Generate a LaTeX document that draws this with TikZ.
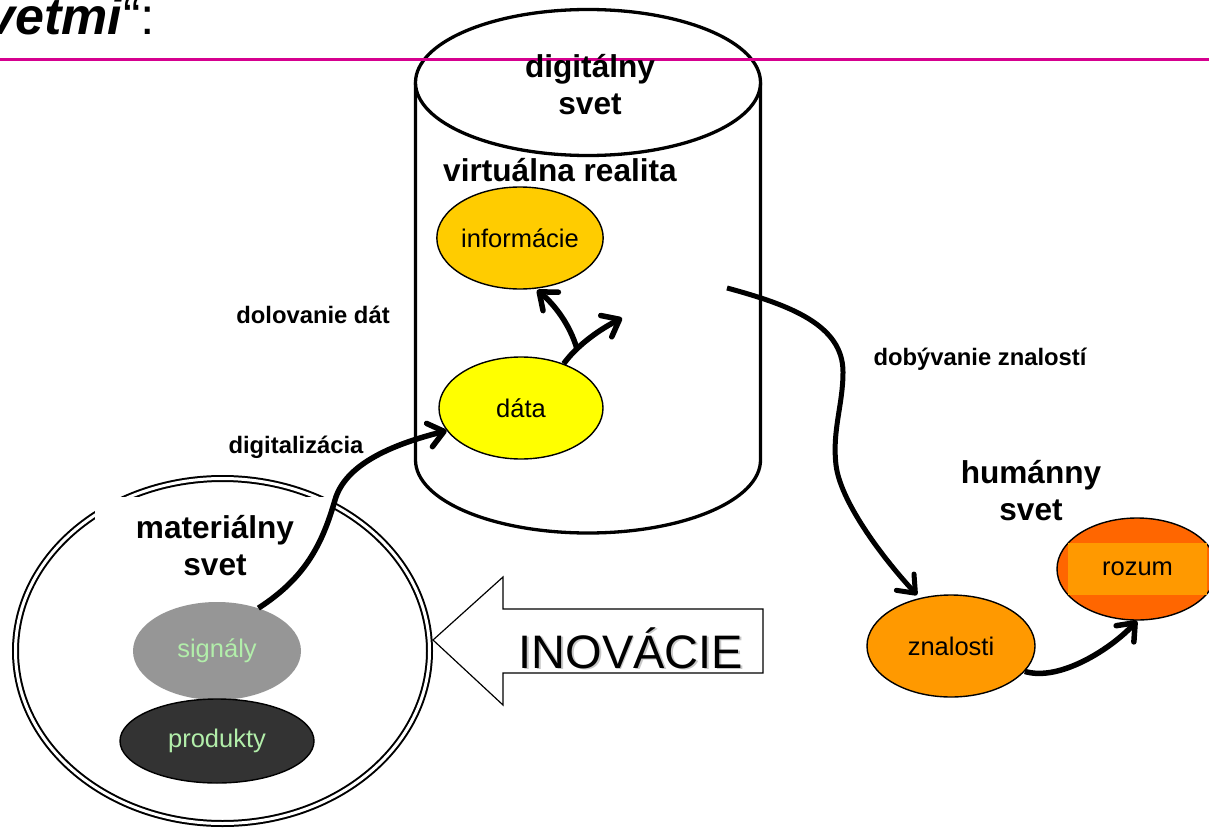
\documentclass[tikz,border=0pt]{standalone}
\usepackage{fontspec}
\setmainfont{Liberation Sans}
\usetikzlibrary{shapes.geometric,arrows.meta}
\definecolor{magline}{RGB}{214,0,143}
\definecolor{infofill}{RGB}{255,204,0}
\definecolor{datafill}{RGB}{255,255,0}
\definecolor{sigfill}{RGB}{150,150,150}
\definecolor{prodfill}{RGB}{51,51,51}
\definecolor{lightgreen}{RGB}{178,238,170}
\definecolor{orangeA}{RGB}{255,153,0}
\definecolor{orangeB}{RGB}{255,102,0}
\begin{document}
\begin{tikzpicture}[x=1pt,y=-1pt,
  blob/.style={ellipse, draw=black, line width=1.4pt, inner sep=0pt, font=\fontsize{25.5}{30}\selectfont},
  biglabel/.style={font=\fontsize{31.6}{37}\selectfont\bfseries, align=center, inner sep=0pt},
  smalllabel/.style={font=\fontsize{23.8}{28}\selectfont\bfseries, inner sep=0pt},
  flow/.style={line width=5.5pt, -{Straight Barb[length=15pt,width=24pt,line cap=round,line join=round]}},
  cyl/.style={fill=white, draw=black, line width=3.3pt},
]
\fill[white] (0,0) rectangle (1209,829);
\useasboundingbox (0,0) rectangle (1209,829);

% digital world cylinder
\filldraw[cyl] (415.5,82.5) -- (415.5,460) arc[start angle=180, end angle=0, x radius=172.5, y radius=73] -- (760.5,82.5);
\filldraw[cyl] (588,82.5) ellipse[x radius=172.5, y radius=73];

% heading rule and title
\draw[magline, line width=2.8pt] (0,59.5) -- (1209,59.5);
\node[anchor=base east, inner sep=0pt, font=\fontsize{52}{60}\selectfont] (title) at (155,35) {\textbf{\textit{vetmi}}“:};

\node[biglabel] (dig) at (590,85) {digitálny\\svet};
\node[biglabel, anchor=base] (virt) at (560,182) {virtuálna realita};

\node[blob, fill=infofill, minimum width=166pt, minimum height=102pt] (info) at (520,238) {informácie};
\node[blob, fill=datafill, minimum width=164pt, minimum height=102pt] (data) at (521,408) {dáta};

% material world
\draw[line width=2pt, double=white, double distance=3pt] (222.5,651) ellipse[x radius=207, y radius=172.5];
\node[biglabel, fill=white, minimum width=240pt, minimum height=98pt] (mat) at (215,546) {materiálny\\svet};
\node[ellipse, fill=sigfill, minimum width=168pt, minimum height=98pt, inner sep=0pt, text=lightgreen, font=\fontsize{25.5}{30}\selectfont] (sig) at (217,651) {signály};
\node[blob, fill=prodfill, text=lightgreen, minimum width=194pt, minimum height=84pt] (prod) at (217,741) {produkty};

% innovation arrow
\filldraw[fill=white, draw=black, line width=1.2pt] (433,640) -- (503,577) -- (503,609) -- (763,609) -- (763,673) -- (503,673) -- (503,705) -- cycle;
\node[font=\fontsize{47}{56}\selectfont, text=black!22, anchor=base, inner sep=0pt] (inovsh) at (632.5,669.5) {INOVÁCIE};
\node[font=\fontsize{47}{56}\selectfont, anchor=base, inner sep=0pt] (inov) at (631,668) {INOVÁCIE};

% human world
\node[biglabel] (hum) at (1031,491) {humánny\\svet};
\node[blob, fill=orangeA, minimum width=168pt, minimum height=102pt] (zn) at (951,646) {znalosti};
\node[blob, fill=orangeB, minimum width=160pt, minimum height=102pt] (roz) at (1137,569) {};
\node[fill=orangeA, minimum width=139pt, minimum height=52pt, inner sep=0pt, font=\fontsize{25.5}{30}\selectfont] (rozt) at (1137.5,569) {rozum};

% small labels
\node[smalllabel, anchor=base] (dol) at (313,323) {dolovanie dát};
\node[smalllabel, anchor=base] (digz) at (296,453) {digitalizácia};
\node[smalllabel, anchor=base] (dob) at (980,365) {dobývanie znalostí};

% connectors
\draw[flow] (sig.46) .. controls (305,578) and (322,545) .. (335,500) .. controls (345,465) and (390,445) .. (data.197);
\coordinate (fork) at (577,349);
\coordinate (up) at (622,318);
\draw[flow] (data.46) .. controls (575,348) and (595,332) .. (up);
\draw[flow, shorten >=2pt] (fork) .. controls (570,325) and (555,305) .. (info.-73);
\coordinate (dobstart) at (727,288);
\draw[flow, line width=5pt, shorten >=4pt] (dobstart) .. controls (790,305) and (843,325) .. (843,372) .. controls (843,405) and (832,430) .. (836,465) .. controls (840,500) and (880,555) .. (zn.123);
\draw[flow] (zn.-19) .. controls (1060,682) and (1112,648) .. (roz.south);
\end{tikzpicture}
\end{document}
